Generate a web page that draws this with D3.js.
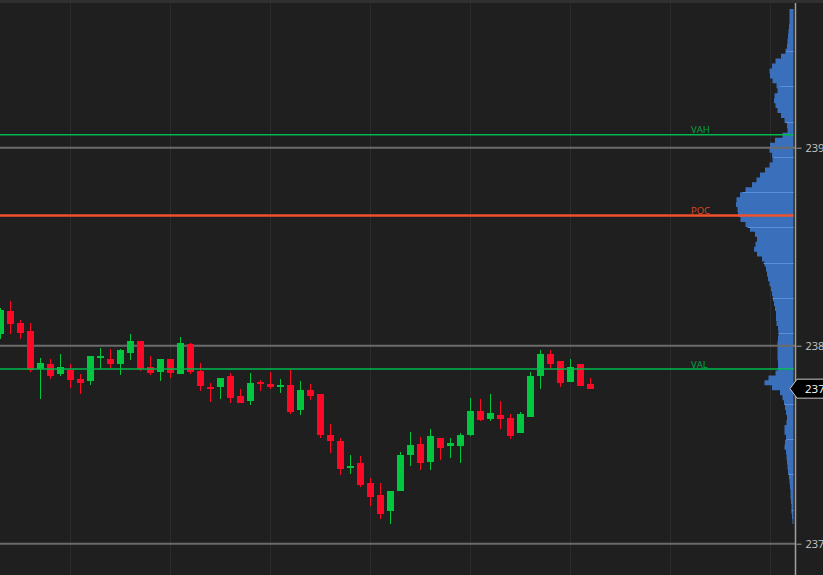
<!DOCTYPE html>
<html>
<head>
<meta charset="utf-8">
<script src="https://cdn.jsdelivr.net/npm/d3@7"></script>
<style>
  html, body { margin: 0; padding: 0; background: #1f1f1f; overflow: hidden; }
  svg { display: block; }
</style>
</head>
<body>
<div id="chart"></div>
<script>
'use strict'

// candles, oldest first (one every 10px)
const opens = [2380.61, 2381.77, 2381.16, 2380.76, 2378.84, 2379.09, 2378.59, 2378.79, 2378.33, 2378.23,
  2379.39, 2379.34, 2379.09, 2379.65, 2380.25, 2378.94, 2378.69, 2379.34, 2378.59, 2380.10,
  2378.74, 2377.93, 2377.93, 2378.48, 2377.47, 2377.22, 2378.18, 2378.08, 2377.93, 2378.03,
  2376.77, 2377.78, 2377.58, 2375.51, 2375.20, 2373.84, 2374.09, 2373.08, 2372.47, 2371.67,
  2372.68, 2374.49, 2375.05, 2374.14, 2375.35, 2374.95, 2374.95, 2375.51, 2376.72, 2376.31,
  2376.52, 2376.36, 2375.61, 2376.41, 2378.48, 2379.60, 2379.24, 2378.18, 2379.09, 2378.08]
const highs = [2381.92, 2382.27, 2381.31, 2381.16, 2379.39, 2379.34, 2379.60, 2379.09, 2378.59, 2379.49,
  2379.90, 2379.85, 2379.85, 2380.61, 2380.25, 2379.49, 2379.34, 2379.34, 2380.45, 2380.15,
  2379.14, 2378.13, 2378.38, 2378.64, 2377.83, 2378.64, 2378.28, 2378.69, 2378.33, 2378.79,
  2378.23, 2378.08, 2377.58, 2376.06, 2375.35, 2374.49, 2374.44, 2373.33, 2373.08, 2372.68,
  2374.65, 2375.66, 2375.40, 2375.81, 2375.35, 2375.35, 2375.61, 2377.37, 2377.32, 2377.58,
  2377.22, 2376.57, 2376.67, 2378.69, 2379.80, 2379.80, 2379.24, 2379.34, 2379.09, 2378.38]
const lows = [2380.35, 2380.61, 2380.35, 2378.69, 2377.32, 2378.33, 2378.48, 2377.88, 2377.58, 2378.03,
  2378.84, 2378.89, 2378.54, 2379.29, 2378.74, 2378.54, 2378.23, 2378.38, 2378.59, 2378.59,
  2377.73, 2377.17, 2377.32, 2377.12, 2377.12, 2377.02, 2377.73, 2377.83, 2377.63, 2376.57,
  2376.52, 2377.27, 2375.35, 2374.60, 2373.48, 2373.54, 2372.88, 2371.92, 2371.26, 2371.01,
  2372.68, 2373.94, 2373.74, 2373.74, 2374.24, 2374.34, 2374.09, 2375.45, 2376.21, 2376.21,
  2375.81, 2375.30, 2375.61, 2376.41, 2377.83, 2378.84, 2377.93, 2378.18, 2377.98, 2377.83]
const closes = [2381.82, 2381.11, 2380.66, 2378.79, 2379.14, 2378.48, 2378.94, 2378.28, 2378.13, 2379.49,
  2379.49, 2379.09, 2379.80, 2380.25, 2378.84, 2378.64, 2379.34, 2378.64, 2380.15, 2378.69,
  2377.98, 2377.83, 2378.38, 2377.37, 2377.12, 2378.13, 2378.08, 2377.93, 2378.03, 2376.67,
  2377.78, 2377.47, 2375.51, 2375.20, 2373.79, 2373.94, 2372.98, 2372.37, 2371.52, 2372.68,
  2374.49, 2375.00, 2374.09, 2375.45, 2374.85, 2375.10, 2375.51, 2376.72, 2376.26, 2376.62,
  2376.31, 2375.45, 2376.57, 2378.48, 2379.60, 2379.09, 2378.13, 2378.94, 2377.98, 2377.83]

// volume profile, one bin per 0.25 from the top level down
const profileTop = 2397
const profileStep = 0.25
const profileVolumes = [40, 40, 40, 40, 50, 50, 60, 60, 70, 90,
  160, 200, 230, 250, 220, 200, 140, 180, 200, 190,
  170, 150, 100, 80, 50, 70, 150, 220, 250, 230,
  200, 220, 260, 310, 360, 380, 450, 510, 560, 580,
  570, 550, 560, 500, 460, 410, 360, 370, 390, 400,
  330, 300, 280, 270, 260, 250, 230, 220, 210, 200,
  190, 180, 170, 180, 160, 150, 150, 160, 160, 160,
  160, 160, 150, 160, 200, 300, 280, 150, 120, 100,
  90, 80, 70, 60, 80, 100, 80, 70, 100, 80,
  70, 70, 60, 60, 50, 40, 40, 30, 30, 30,
  20, 20, 20, 10, 10]
const profileMarks = [2394.90, 2393.11, 2391.31, 2389.55, 2387.78, 2385.98, 2384.19,
  2382.42, 2380.66, 2378.86, 2377.07, 2375.30, 2373.51, 2371.72]

const levels = [
  { label: 'VAH', price: 2390.65, color: '#00b84c', text: '#00a844', width: 1.5 },
  { label: 'POC', price: 2386.58, color: '#f0502c', text: '#dd4a22', width: 2.5 },
  { label: 'VAL', price: 2378.82, color: '#00b84c', text: '#00a844', width: 1.5 }
]
const priceTicks = [2370, 2380, 2390]
const gridIndexes = [7, 17, 27, 37, 47, 57, 67, 77]

const width = 823
const height = 575
const axisX = 795.5
const profileRight = 793.5
const up = '#00c83e'
const down = '#ff0828'

const svg = d3.select('#chart')
  .append('svg')
  .attr('width', width)
  .attr('height', height)

svg.append('rect')
  .attr('width', width)
  .attr('height', height)
  .attr('fill', '#1f1f1f')

const x = d3.scaleLinear().domain([0, 59]).range([0.5, 590.5])
const y = d3.scaleLinear().domain([2370, 2390]).range([543.7, 147.7])
const vol = d3.scaleLinear().domain([0, 580]).range([0, 58])

// vertical grid
svg.append('g')
  .selectAll('line')
  .data(gridIndexes)
  .enter()
  .append('line')
  .attr('x1', d => Math.round(x(d)) - 0.5)
  .attr('x2', d => Math.round(x(d)) - 0.5)
  .attr('y1', 3)
  .attr('y2', height)
  .attr('stroke', '#2c2c2c')
  .attr('stroke-width', 1)

// volume profile
const profile = profileVolumes.map((v, i) => ({ p: profileTop - i * profileStep, v: v }))
const area = d3.area()
  .y(d => y(d.p))
  .x0(profileRight)
  .x1(d => profileRight - vol(d.v))
  .curve(d3.curveStep)

svg.append('path')
  .datum(profile)
  .attr('d', area)
  .attr('fill', '#3a6fbc')

svg.append('g')
  .selectAll('line')
  .data(profileMarks)
  .enter()
  .append('line')
  .attr('x1', d => {
    const i = Math.round((profileTop - d) / profileStep)
    return profileRight - vol(profileVolumes[i])
  })
  .attr('x2', profileRight)
  .attr('y1', d => Math.round(y(d)) + 0.5)
  .attr('y2', d => Math.round(y(d)) + 0.5)
  .attr('stroke', '#5a8fdc')
  .attr('stroke-width', 1)

// price gridlines
svg.append('g')
  .selectAll('line')
  .data(priceTicks)
  .enter()
  .append('line')
  .attr('x1', 0)
  .attr('x2', axisX)
  .attr('y1', d => y(d))
  .attr('y2', d => y(d))
  .attr('stroke', '#6b6b6b')
  .attr('stroke-width', 2)

// candles
const candles = svg.append('g').attr('shape-rendering', 'crispEdges')
  .selectAll('g')
  .data(opens.map((o, i) => ({ i: i, o: o, h: highs[i], l: lows[i], c: closes[i] })))
  .enter()
  .append('g')

candles.append('line')
  .attr('x1', d => x(d.i))
  .attr('x2', d => x(d.i))
  .attr('y1', d => y(d.h))
  .attr('y2', d => y(d.l))
  .attr('stroke', d => d.c >= d.o ? up : down)
  .attr('stroke-width', 1)

candles.append('rect')
  .attr('x', d => x(d.i) - 3.5)
  .attr('width', 7)
  .attr('y', d => y(Math.max(d.o, d.c)))
  .attr('height', d => Math.max(2, Math.abs(y(d.o) - y(d.c))))
  .attr('fill', d => d.c >= d.o ? up : down)

// value area levels
const lv = svg.append('g')
  .selectAll('g')
  .data(levels)
  .enter()
  .append('g')

lv.append('line')
  .attr('x1', 0)
  .attr('x2', profileRight)
  .attr('y1', d => y(d.price))
  .attr('y2', d => y(d.price))
  .attr('stroke', d => d.color)
  .attr('stroke-width', d => d.width)

lv.append('text')
  .attr('x', 691)
  .attr('y', d => y(d.price) - 1.5)
  .attr('fill', d => d.text)
  .attr('font-family', 'Open Sans, sans-serif')
  .attr('font-size', 9.5)
  .text(d => d.label)

// top strip
svg.append('rect')
  .attr('width', width)
  .attr('height', 3)
  .attr('fill', '#303030')

// right price axis
svg.append('line')
  .attr('x1', axisX)
  .attr('x2', axisX)
  .attr('y1', 3)
  .attr('y2', height)
  .attr('stroke', '#a0a0a0')
  .attr('stroke-width', 1.5)

const axis = svg.append('g')
  .attr('transform', 'translate(' + (axisX + 1) + ',0)')
  .call(d3.axisRight(y).tickValues(priceTicks).tickSize(5).tickPadding(4).tickFormat(d3.format('d')))

axis.select('.domain').remove()
axis.selectAll('line').attr('stroke', '#a0a0a0')
axis.selectAll('text')
  .attr('fill', '#c8c8c8')
  .attr('font-family', 'Open Sans, sans-serif')
  .attr('font-size', 11)

// last price tag
const last = closes[closes.length - 1]
const ly = y(last)
svg.append('path')
  .attr('d', 'M790,' + ly + 'L797,' + (ly - 9.5) + 'L830,' + (ly - 9.5) +
    'L830,' + (ly + 9.5) + 'L797,' + (ly + 9.5) + 'Z')
  .attr('fill', '#000')
  .attr('stroke', '#c8c8c8')
  .attr('stroke-width', 1)

svg.append('text')
  .attr('x', 805)
  .attr('y', ly)
  .attr('dy', '0.35em')
  .attr('fill', '#ffffff')
  .attr('font-family', 'Open Sans, sans-serif')
  .attr('font-size', 11.5)
  .text(last.toFixed(2))
</script>
</body>
</html>
